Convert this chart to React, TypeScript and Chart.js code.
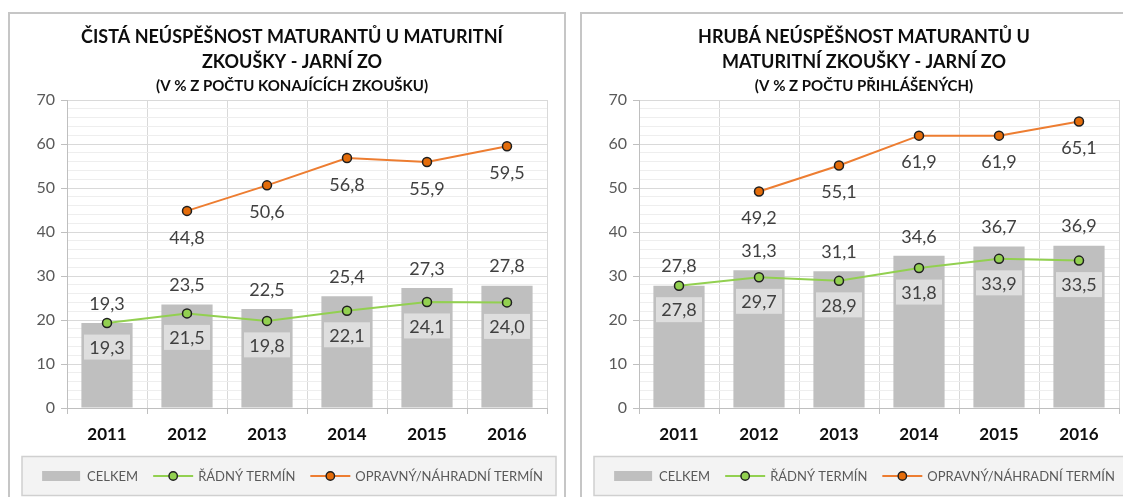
import React, { useEffect, useRef } from 'react';
import { Chart, registerables } from 'chart.js';

Chart.register(...registerables);

const years = ['2011', '2012', '2013', '2014', '2015', '2016'];

const netTotal = [19.3, 23.5, 22.5, 25.4, 27.3, 27.8];
const netRegular = [19.3, 21.5, 19.8, 22.1, 24.1, 24.0];
const netResit: (number | null)[] = [null, 44.8, 50.6, 56.8, 55.9, 59.5];

const grossTotal = [27.8, 31.3, 31.1, 34.6, 36.7, 36.9];
const grossRegular = [27.8, 29.7, 28.9, 31.8, 33.9, 33.5];
const grossResit: (number | null)[] = [null, 49.2, 55.1, 61.9, 61.9, 65.1];

const legendLabels = ['CELKEM', 'ŘÁDNÝ TERMÍN', 'OPRAVNÝ/NÁHRADNÍ TERMÍN'];

const netTitle = ['ČISTÁ NEÚSPĚŠNOST MATURANTŮ U MATURITNÍ', 'ZKOUŠKY - JARNÍ ZO'];
const netSubtitle = '(V % Z POČTU KONAJÍCÍCH ZKOUŠKU)';
const grossTitle = ['HRUBÁ NEÚSPĚŠNOST MATURANTŮ U', 'MATURITNÍ ZKOUŠKY - JARNÍ ZO'];
const grossSubtitle = '(V % Z POČTU PŘIHLÁŠENÝCH)';

const Y_MIN = 0;
const Y_MAX = 70;
const Y_MAJOR = 10;
const Y_MINOR = 2;

const FONT = 'Lato, "Open Sans", "DejaVu Sans", sans-serif';
const GRAY_BAR = '#bfbfbf';
const GREEN = '#92d050';
const ORANGE = '#ed7d31';
const ORANGE_DARK = '#e46c0a';
const MARKER_EDGE = '#1f1f1f';

const fmt = (v: number) => v.toFixed(1).replace('.', ',');

function drawSwatch(ctx: CanvasRenderingContext2D, kind: number, x: number, cy: number) {
  if (kind === 0) {
    ctx.fillStyle = GRAY_BAR;
    ctx.fillRect(x, cy - 5, 38, 10);
    return;
  }
  const line = kind === 1 ? GREEN : ORANGE;
  const fill = kind === 1 ? GREEN : ORANGE_DARK;
  ctx.strokeStyle = line;
  ctx.lineWidth = 2;
  ctx.beginPath();
  ctx.moveTo(x, cy);
  ctx.lineTo(x + 40, cy);
  ctx.stroke();
  ctx.beginPath();
  ctx.arc(x + 20, cy, 4.2, 0, Math.PI * 2);
  ctx.fillStyle = fill;
  ctx.fill();
  ctx.lineWidth = 1.4;
  ctx.strokeStyle = MARKER_EDGE;
  ctx.stroke();
}

const valueLabels = {
  id: 'valueLabels',
  afterDatasetsDraw(chart: any) {
    const ctx = chart.ctx;
    ctx.save();
    ctx.font = `18px ${FONT}`;
    ctx.textAlign = 'center';
    ctx.textBaseline = 'middle';
    chart.data.datasets.forEach((ds: any, di: number) => {
      const meta = chart.getDatasetMeta(di);
      meta.data.forEach((el: any, i: number) => {
        const v = ds.data[i];
        if (v == null) return;
        const t = fmt(v);
        if (di === 0) {
          ctx.fillStyle = '#404040';
          ctx.fillText(t, el.x, el.y - 19);
        } else if (di === 1) {
          const cy = el.y + 24;
          ctx.fillStyle = '#dedede';
          ctx.fillRect(el.x - 23, cy - 12.5, 46, 25);
          ctx.fillStyle = '#404040';
          ctx.fillText(t, el.x, cy + 1);
        } else {
          ctx.fillStyle = '#404040';
          ctx.fillText(t, el.x, el.y + 27);
        }
      });
    });
    ctx.restore();
  },
  afterDraw(chart: any) {
    const ctx = chart.ctx;
    const area = chart.chartArea;
    const cy = area.bottom + 68;
    ctx.save();
    // legend frame
    ctx.fillStyle = '#f3f3f3';
    ctx.strokeStyle = '#d0d0d0';
    ctx.lineWidth = 1.5;
    ctx.fillRect(12, cy - 19.5, chart.width - 20, 39);
    ctx.strokeRect(12, cy - 19.5, chart.width - 20, 39);
    // legend items
    ctx.font = `13px ${FONT}`;
    ctx.textAlign = 'left';
    ctx.textBaseline = 'middle';
    const sw = 40;
    const gap = 5;
    const between = 15;
    const widths = legendLabels.map((t) => ctx.measureText(t).width);
    const total = widths.reduce((a, w) => a + sw + gap + w, 0) + between * (legendLabels.length - 1);
    const center = (area.left + area.right) / 2 - 14.5;
    let x = center - total / 2;
    legendLabels.forEach((t, i) => {
      drawSwatch(ctx, i, x, cy);
      ctx.fillStyle = '#595959';
      ctx.fillText(t, x + sw + gap, cy + 1);
      x += sw + gap + widths[i] + between;
    });
    ctx.restore();
  },
};

type PanelProps = {
  left: number;
  title: string[];
  subtitle: string;
  total: number[];
  regular: number[];
  resit: (number | null)[];
};

function Panel({ left, title, subtitle, total, regular, resit }: PanelProps) {
  const ref = useRef<HTMLCanvasElement>(null);

  useEffect(() => {
    const chart = new Chart(ref.current!, {
      type: 'bar',
      data: {
        labels: years,
        datasets: [
          {
            type: 'bar',
            label: legendLabels[0],
            data: total,
            backgroundColor: GRAY_BAR,
            barPercentage: 0.64,
            categoryPercentage: 1,
            order: 2,
          },
          {
            type: 'line',
            label: legendLabels[1],
            data: regular,
            borderColor: GREEN,
            borderWidth: 2,
            pointBackgroundColor: GREEN,
            pointBorderColor: MARKER_EDGE,
            pointBorderWidth: 1.5,
            pointRadius: 4.5,
            tension: 0,
            order: 1,
          },
          {
            type: 'line',
            label: legendLabels[2],
            data: resit,
            borderColor: ORANGE,
            borderWidth: 2,
            pointBackgroundColor: ORANGE_DARK,
            pointBorderColor: MARKER_EDGE,
            pointBorderWidth: 1.5,
            pointRadius: 4.5,
            tension: 0,
            order: 0,
          },
        ] as any,
      },
      options: {
        responsive: false,
        animation: false,
        layout: { padding: { left: 27, right: 17, top: 0, bottom: 42 } },
        scales: {
          x: {
            grid: {
              offset: true,
              color: '#d9d9d9',
              tickLength: 6,
              tickColor: '#bfbfbf',
            },
            border: { color: '#bfbfbf', width: 1 },
            ticks: {
              font: { family: FONT, size: 17, weight: 'bold' },
              color: '#0d0d0d',
              padding: 10,
            },
            afterFit: (s: any) => {
              s.height = 47;
            },
          },
          y: {
            min: Y_MIN,
            max: Y_MAX,
            ticks: {
              stepSize: Y_MINOR,
              autoSkip: false,
              callback: (v: any) => (Number(v) % Y_MAJOR === 0 ? String(v) : ''),
              font: { family: FONT, size: 16 },
              color: '#595959',
              padding: 6,
            },
            grid: {
              color: (c: any) => (c.tick && c.tick.value % Y_MAJOR === 0 ? '#d9d9d9' : '#eeeeee'),
              tickColor: (c: any) =>
                c.tick && c.tick.value % Y_MAJOR === 0 ? '#bfbfbf' : 'rgba(0,0,0,0)',
              tickLength: 6,
            },
            border: { color: '#bfbfbf', width: 1 },
            afterFit: (s: any) => {
              s.width = 30;
            },
          },
        },
        plugins: {
          tooltip: { enabled: false },
          legend: { display: false },
          title: {
            display: true,
            text: title,
            color: '#0d0d0d',
            font: { family: FONT, size: 18, weight: 'bold', lineHeight: 25 / 18 },
            padding: { top: 10.5, bottom: 0 },
          },
          subtitle: {
            display: true,
            text: subtitle,
            color: '#0d0d0d',
            font: { family: FONT, size: 15, weight: 'bold', lineHeight: 1.2 },
            padding: { top: 2.5, bottom: 5 },
          },
        },
      } as any,
      plugins: [valueLabels],
    });
    return () => chart.destroy();
  }, []);

  return (
    <div
      style={{
        position: 'absolute',
        left,
        top: 12,
        width: 558,
        height: 500,
        border: '2px solid #c6c6c6',
        boxSizing: 'border-box',
        background: '#ffffff',
      }}
    >
      <canvas ref={ref} width={554} height={483} style={{ display: 'block', width: 554, height: 483 }} />
    </div>
  );
}

export default function App() {
  return (
    <div
      style={{
        position: 'fixed',
        left: 0,
        top: 0,
        width: 1123,
        height: 497,
        overflow: 'hidden',
        background: '#ffffff',
      }}
    >
      <Panel left={8} title={netTitle} subtitle={netSubtitle} total={netTotal} regular={netRegular} resit={netResit} />
      <Panel left={580} title={grossTitle} subtitle={grossSubtitle} total={grossTotal} regular={grossRegular} resit={grossResit} />
    </div>
  );
}
